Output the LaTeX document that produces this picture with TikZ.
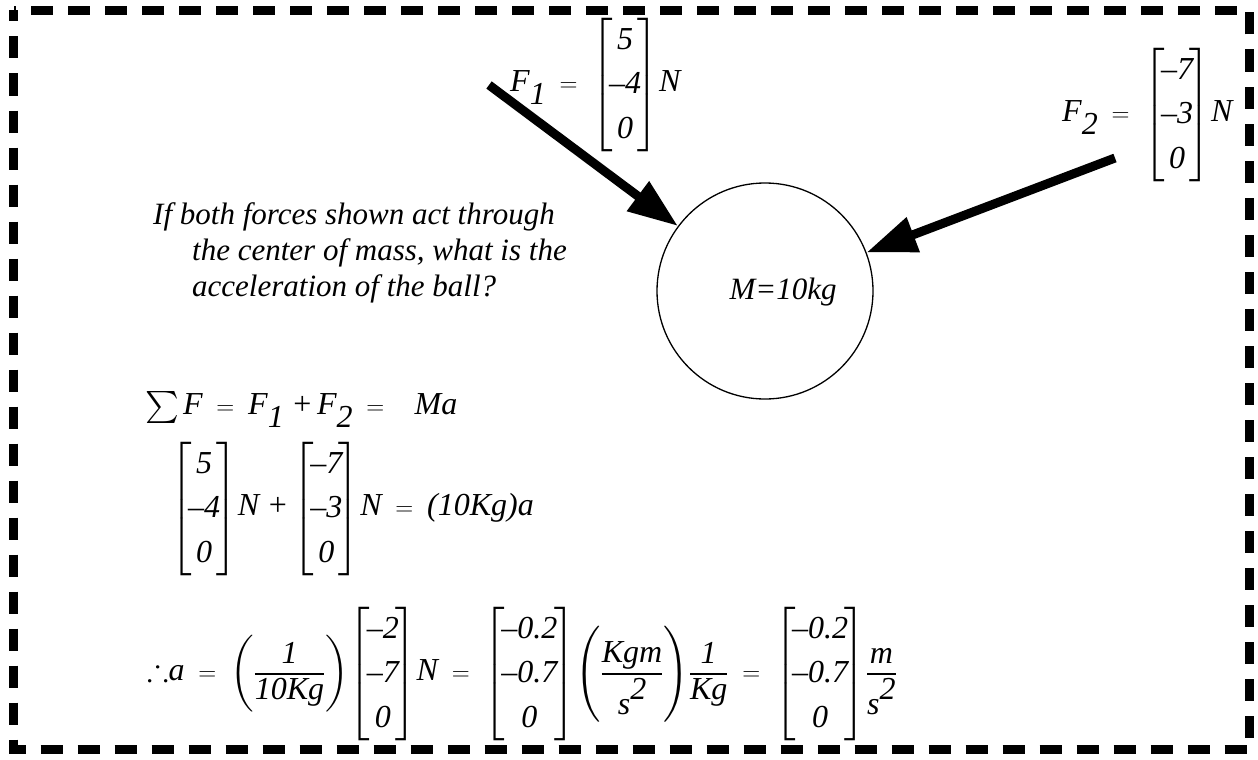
\documentclass[tikz,border=0pt]{standalone}
\usepackage{amsmath,amssymb}
\usepackage{fontspec}
\setmainfont{Liberation Serif}
\usetikzlibrary{arrows.meta}
\renewcommand{\arraystretch}{1.24}
% column vector in square brackets, italic entries
\newcommand{\colv}[3]{{\left[\begin{array}{@{\mkern-2.5mu}c@{\mkern-2.5mu}}\textit{#1}\\\textit{#2}\\\textit{#3}\end{array}\right]}}
% force with a full size, lowered index
\newcommand{\Fs}[1]{\mathit{F}\lower13pt\hbox{$\mathit{#1}$}}
% s squared, full size exponent
\newcommand{\sqs}{\mathit{s}\raise15pt\hbox{$\mathit{2}$}}
\newcommand{\eqs}{\mskip5mu=\mskip5mu}
\newcommand{\pls}{\mathbin{\mkern3mu\text{+}}}

\begin{document}
\begin{tikzpicture}[
    x=1pt, y=-1pt,
    txt/.style={font=\fontsize{31}{36}\selectfont\itshape, inner sep=0pt},
    eqn/.style={font=\fontsize{32}{36}\selectfont, inner sep=0pt},
    force/.style={line width=9pt, -{Triangle[length=50pt, width=35pt]}},
    framedash/.style={line width=9pt, dash pattern=on 22pt off 15pt, dash phase=11pt}
  ]
  \useasboundingbox (0,0) rectangle (1258,760);
  \draw[framedash] (13.5,10.5) rectangle (1249.5,749.5);

  % the ball and the two forces
  \node[circle, draw, line width=1.3pt, minimum size=216pt, inner sep=0pt] (ball) at (765,291) {};
  \node[txt] (mass) at (783,292) {M=10kg};
  \coordinate (t1) at (489,85);
  \coordinate (t2) at (1115,158);
  \draw[force] (t1) -- (ball);
  \draw[force] (t2) -- (ball);

  \node[eqn, anchor=west] (fone) at (510,85) {$\Fs{1}\eqs\colv{5}{--4}{0}\mathit{N}$};
  \node[eqn, anchor=west] (ftwo) at (1062,115) {$\Fs{2}\eqs\colv{--7}{--3}{0}\mathit{N}$};

  % question
  \node[txt, anchor=base west] (q1) at (153,224) {If both forces shown act through};
  \node[txt, anchor=base west] (q2) at (192,260) {the center of mass, what is the};
  \node[txt, anchor=base west] (q3) at (192,296) {acceleration of the ball?};

  % working
  \node[eqn, anchor=base west] (sum) at (145,414) {$\textstyle\sum\mathit{F}\eqs\Fs{1}\pls\Fs{2}\eqs\mskip12mu\mathit{Ma}$};
  \node[eqn, anchor=west] (add) at (170,509) {$\colv{5}{--4}{0}\mathit{N}\pls\colv{--7}{--3}{0}\mathit{N}\eqs\text{\itshape(10Kg)a}$};
  \node[eqn, anchor=west] (acc) at (147,674) {$\displaystyle\mathord{\therefore}\mathit{a}\eqs{\left(\frac{\mathit{1}}{\mathit{10Kg}}\right)}\colv{--2}{--7}{0}\mathit{N}\eqs\colv{--0.2}{--0.7}{0}{\left(\frac{\mathit{Kgm}}{\sqs}\right)}\frac{\mathit{1}}{\mathit{Kg}}\eqs\colv{--0.2}{--0.7}{0}\frac{\mathit{m}}{\sqs}$};
\end{tikzpicture}
\end{document}
